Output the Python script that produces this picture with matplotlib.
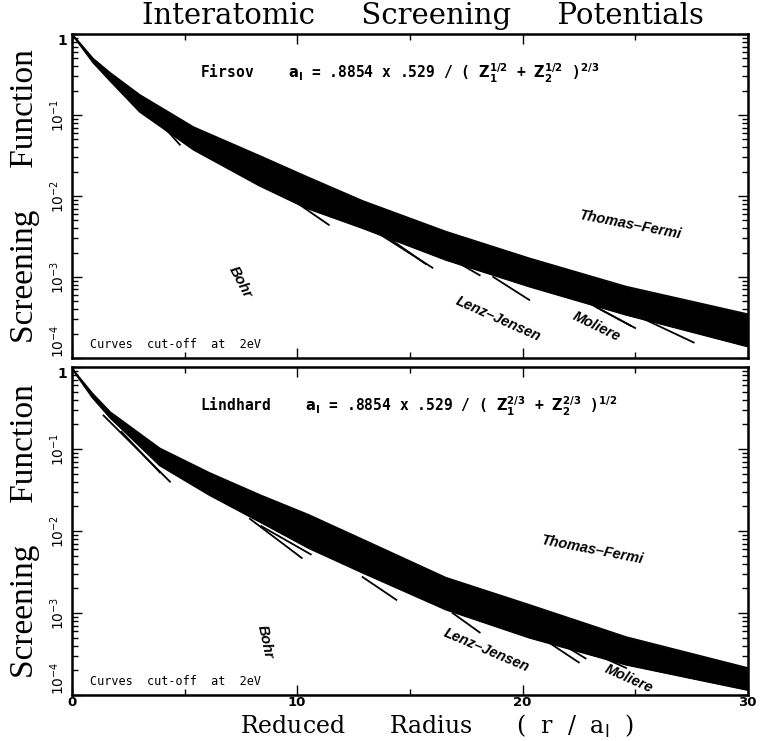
import numpy as np
import matplotlib
matplotlib.use('Agg')
import matplotlib.pyplot as plt
from matplotlib.ticker import FixedLocator, NullFormatter

# ---- data ----
# upper / lower edge of the bundle of screening curves
firsov_x = [0, 0.13, 0.93, 1.7, 3.0, 5.4, 8.3, 10.4, 12.9, 16.6, 20.3, 24.6, 30]
firsov_upper = [1, 0.912, 0.50, 0.331, 0.178, 0.0708, 0.0316, 0.0174, 0.0087,
                0.00363, 0.0017, 0.00076, 0.000347]
firsov_lower = [1, 0.891, 0.447, 0.263, 0.11, 0.0372, 0.0135, 0.0071, 0.004,
                0.00162, 0.00076, 0.00034, 0.000138]

lindhard_x = [0, 0.13, 0.9, 1.7, 3.9, 6.1, 8.35, 10.5, 12.9, 16.6, 20.3, 24.6, 30]
lindhard_upper = [1, 0.871, 0.479, 0.282, 0.102, 0.0513, 0.0275, 0.0158, 0.0079,
                  0.0027, 0.00126, 0.00051, 0.000214]
lindhard_lower = [1, 0.851, 0.427, 0.24, 0.063, 0.0275, 0.0129, 0.0062, 0.0031,
                  0.0011, 0.0005, 0.000234, 0.000115]

# curves that leave the bundle and stop (cut-off at 2 eV)
firsov_strand_x = [(3.46, 4.79), (6.35, 7.9), (9.5, 11.4), (13.5, 16.0), (13.8, 15.7),
                   (16.5, 18.1), (18.7, 20.3), (23.1, 25.0), (23.3, 24.8), (25.2, 27.6)]
firsov_strand_y = [(0.11, 0.043), (0.0275, 0.018), (0.0102, 0.0044), (0.0036, 0.0013),
                   (0.0034, 0.00145), (0.0019, 0.00105), (0.001, 0.00052),
                   (0.00045, 0.000234), (0.00042, 0.00025), (0.00032, 0.000155)]

lindhard_strand_x = [(1.4, 4.35), (2.2, 3.9), (7.9, 10.2), (8.4, 10.6), (12.9, 14.4),
                     (16.9, 18.1), (20.8, 22.5), (21.0, 22.8), (23.3, 24.6)]
lindhard_strand_y = [(0.257, 0.04), (0.162, 0.052), (0.0141, 0.0047), (0.0115, 0.0052),
                     (0.00275, 0.00145), (0.001, 0.00058), (0.00051, 0.00025),
                     (0.00056, 0.00028), (0.00031, 0.000214)]

# curve family labels: (text, x, y, rotation)
firsov_labels = [('Thomas\u2013Fermi', 24.8, 0.0044, -11), ('Bohr', 7.45, 0.00087, -62),
                 ('Lenz\u2013Jensen', 18.9, 0.0003, -24), ('Moliere', 23.3, 0.00024, -26)]
lindhard_labels = [('Thomas\u2013Fermi', 23.1, 0.0059, -11), ('Bohr', 8.57, 0.00045, -78),
                   ('Lenz\u2013Jensen', 18.4, 0.00035, -23), ('Moliere', 24.7, 0.00016, -24)]

formulas = [r'Firsov    $\mathbf{a_I}$ = .8854 x .529 / ( $\mathbf{Z_1^{1/2}}$ + $\mathbf{Z_2^{1/2}}$ )$\mathbf{^{2/3}}$',
            r'Lindhard    $\mathbf{a_I}$ = .8854 x .529 / ( $\mathbf{Z_1^{2/3}}$ + $\mathbf{Z_2^{2/3}}$ )$\mathbf{^{1/2}}$']

x_ticks = [0, 10, 20, 30]
y_ticks = [1e-4, 1e-3, 1e-2, 1e-1, 1]
y_labels = ['$10^{-4}$', '$10^{-3}$', '$10^{-2}$', '$10^{-1}$', '1']

plt.rcParams['mathtext.fontset'] = 'dejavusans'

fig = plt.figure(figsize=(7.61, 7.41), dpi=100)
ax1 = fig.add_axes([0.0946, 0.517, 0.888, 0.437])
ax2 = fig.add_axes([0.0946, 0.062, 0.888, 0.4426])

panels = [(ax1, firsov_x, firsov_upper, firsov_lower, firsov_strand_x, firsov_strand_y, firsov_labels),
          (ax2, lindhard_x, lindhard_upper, lindhard_lower, lindhard_strand_x, lindhard_strand_y, lindhard_labels)]

for i, (ax, bx, up, lo, sx, sy, labs) in enumerate(panels):
    ax.set_yscale('log')
    ax.fill_between(bx, lo, up, color='black', lw=0)
    ax.plot(bx, up, color='black', lw=1.2)
    ax.plot(bx, lo, color='black', lw=1.2)
    for xs, ys in zip(sx, sy):
        ax.plot(xs, ys, color='black', lw=1.3)
    for t, lx, ly, rot in labs:
        ax.text(lx, ly, t, rotation=rot, ha='center', va='center', fontsize=10.5,
                style='italic', fontweight='bold', family='Liberation Sans',
                rotation_mode='anchor')
    ax.text(5.7, 0.33, formulas[i], ha='left', va='center', fontsize=10.5,
            fontweight='bold', family='DejaVu Sans Mono')
    ax.text(0.8, 0.000148, 'Curves  cut-off  at  2eV', ha='left', va='center',
            fontsize=8.5, family='DejaVu Sans Mono')

    ax.set_xlim(0, 30)
    ax.set_ylim(1e-4, 1)
    ax.xaxis.set_major_locator(FixedLocator(x_ticks))
    ax.xaxis.set_minor_locator(FixedLocator([5, 15, 25]))
    ax.set_yticks(y_ticks)
    ax.set_yticklabels(y_labels)
    ax.yaxis.set_minor_locator(FixedLocator([m * 10.0 ** e for e in range(-4, 0) for m in range(2, 10)]))
    ax.yaxis.set_minor_formatter(NullFormatter())
    ylabs = ax.get_yticklabels()
    for lab in ylabs[:-1]:
        lab.set_rotation(90)
        lab.set_va('center')
    ylabs[0].set_va('bottom')
    ylabs[-1].set_va('top')
    for lab in ylabs:
        lab.set_fontsize(10)
        lab.set_fontweight('bold')
    ax.tick_params(which='both', direction='in', top=True, right=True, width=1)
    ax.tick_params(which='major', length=7)
    ax.tick_params(which='minor', length=4)
    ax.tick_params(axis='x', pad=1)
    for s in ax.spines.values():
        s.set_linewidth(1.8)
    ax.set_xticklabels([str(v) for v in x_ticks], fontsize=9.5, fontweight='bold')
    if i == 0:
        ax.tick_params(labelbottom=False)
    # vertical axis title
    fig.text(0.032, (ax.get_position().y0 + ax.get_position().y1) / 2,
             'Screening     Function', rotation=90, ha='center', va='center',
             fontsize=24, family='Liberation Serif')

fig.text(0.556, 0.979, 'Interatomic     Screening     Potentials', ha='center', va='center',
         fontsize=21, family='DejaVu Serif')
fig.text(0.574, 0.002, r'Reduced      Radius      (  r  /  a$_\mathrm{I}$  )', ha='center', va='bottom',
         fontsize=17, family='DejaVu Serif')

fig.savefig('out.png', dpi=100)
